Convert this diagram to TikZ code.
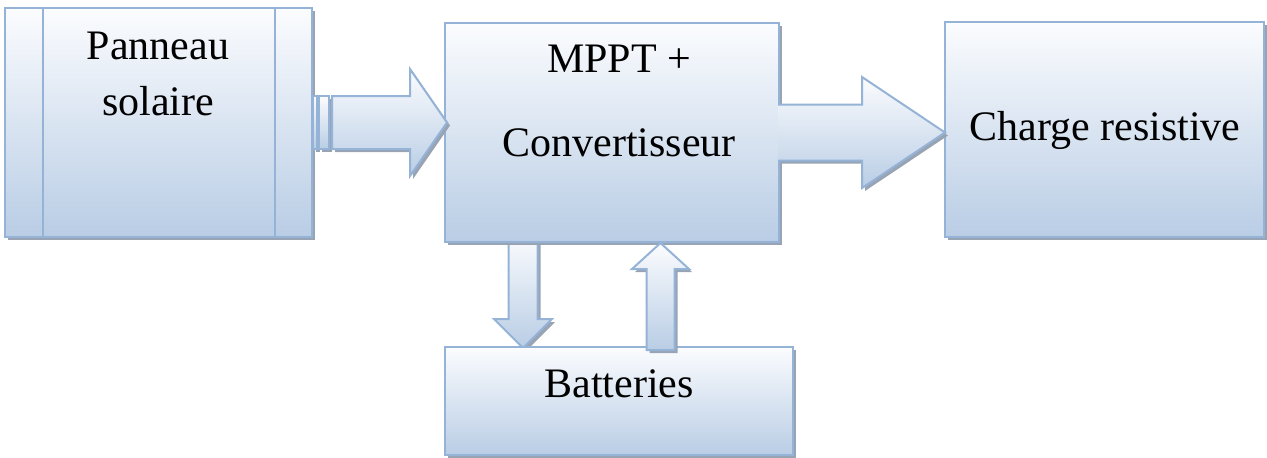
\documentclass[tikz,border=0pt]{standalone}
\usepackage{fontspec}
\setmainfont{Liberation Serif}
\usetikzlibrary{shadows,calc,backgrounds}

\definecolor{edgeblue}{HTML}{95B3D7}
\definecolor{topfill}{HTML}{FBFCFE}
\definecolor{botfill}{HTML}{B9CDE5}
\definecolor{shadowgray}{HTML}{98A4B4}

\tikzset{
  blockshadow/.style={drop shadow={shadow xshift=3pt,shadow yshift=-3pt,fill=shadowgray,opacity=1}},
  block/.style={rectangle,draw=edgeblue,line width=2pt,top color=topfill,bottom color=botfill,
                blockshadow,inner sep=0pt,outer sep=0pt,anchor=north west},
  txt/.style={font=\fontsize{42}{50}\selectfont,anchor=base,inner sep=0pt},
  bodyfill/.style={top color=topfill,bottom color=botfill,blockshadow},
  arrowedge/.style={draw=edgeblue,line width=2pt,line join=miter},
}

\begin{document}
\begin{tikzpicture}[x=1pt,y=-1pt]
\useasboundingbox (0,0) rectangle (1267,458);

% blocks
\node[block,minimum width=307pt,minimum height=229pt] (panneau) at (5,8) {};
\node[block,minimum width=334pt,minimum height=219pt] (mppt) at (445,23) {};
\node[block,minimum width=319pt,minimum height=215pt] (charge) at (945,22) {};
\node[block,minimum width=348pt,minimum height=108pt] (batt) at (445,347) {};

% side bands of the solar panel
\draw[arrowedge] ($(panneau.north west)+(38,0)$) -- ($(panneau.south west)+(38,0)$);
\draw[arrowedge] ($(panneau.north east)+(-37,0)$) -- ($(panneau.south east)+(-37,0)$);

% labels
\node[txt] (t1) at ($(panneau.north west)+(153,51)$) {Panneau};
\node[txt] (t2) at ($(panneau.north west)+(153,107)$) {solaire};
\node[txt] (t3) at ($(mppt.north west)+(174,49)$) {MPPT +};
\node[txt] (t4) at ($(mppt.north west)+(174,133)$) {Convertisseur};
\node[txt] (t5) at ($(charge.north west)+(160,118)$) {Charge resistive};
\node[txt] (t6) at ($(batt.north west)+(174,50)$) {Batteries};

% panel -> converter (striped block arrow)
\coordinate (pvtail) at (panneau.east);
\coordinate (pvtip) at (panneau.east -| mppt.west);
\path[bodyfill,arrowedge] ($(pvtail)+(1,-26.5)$) rectangle ($(pvtail)+(5,26.5)$);
\path[bodyfill,arrowedge] ($(pvtail)+(7,-26.5)$) rectangle ($(pvtail)+(17,26.5)$);
\path[bodyfill,arrowedge] ($(pvtail)+(20,-26.5)$) -- ($(pvtip)+(-35,-26.5)$)
  -- ($(pvtip)+(-35,-53.5)$) -- ($(pvtip)+(2,0)$) -- ($(pvtip)+(-35,53.5)$)
  -- ($(pvtip)+(-35,26.5)$) -- ($(pvtail)+(20,26.5)$) -- cycle;

% converter -> load
\coordinate (ldtail) at (mppt.east);
\coordinate (ldtip) at (mppt.east -| charge.west);
\path[bodyfill] ($(ldtail)+(-1,-28)$) -- ($(ldtip)+(-83,-28)$)
  -- ($(ldtip)+(-83,-55.5)$) -- (ldtip) -- ($(ldtip)+(-83,55.5)$)
  -- ($(ldtip)+(-83,28)$) -- ($(ldtail)+(-1,28)$) -- cycle;
\draw[arrowedge] ($(ldtail)+(-1,-28)$) -- ($(ldtip)+(-83,-28)$)
  -- ($(ldtip)+(-83,-55.5)$) -- (ldtip) -- ($(ldtip)+(-83,55.5)$)
  -- ($(ldtip)+(-83,28)$) -- ($(ldtail)+(-1,28)$);

% converter -> batteries (behind the converter block)
\coordinate (chtail) at ($(mppt.south west)+(78,-8)$);
\coordinate (chtip) at (chtail |- batt.north);
\begin{scope}[on background layer]
\path[bodyfill,arrowedge] ($(chtail)+(-14.5,0)$) -- ($(chtip)+(-14.5,-28)$)
  -- ($(chtip)+(-29,-28)$) -- ($(chtip)+(0,1)$) -- ($(chtip)+(29,-28)$)
  -- ($(chtip)+(14.5,-28)$) -- ($(chtail)+(14.5,0)$) -- cycle;
\end{scope}

% batteries -> converter
\coordinate (dctail) at ($(batt.north west)+(215.5,3)$);
\coordinate (dctip) at (dctail |- mppt.south);
\path[bodyfill,arrowedge] ($(dctail)+(-14,0)$) -- ($(dctip)+(-14,27)$)
  -- ($(dctip)+(-28.5,27)$) -- ($(dctip)+(0,1)$) -- ($(dctip)+(28.5,27)$)
  -- ($(dctip)+(14,27)$) -- ($(dctail)+(14,0)$) -- cycle;
\end{tikzpicture}
\end{document}
